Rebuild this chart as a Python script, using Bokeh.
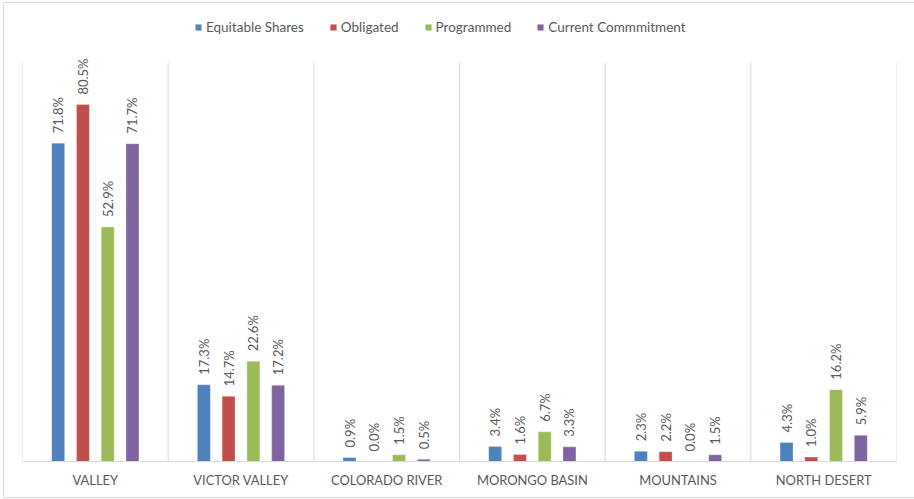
import numpy as np
from bokeh.plotting import figure
from bokeh.models import ColumnDataSource, FixedTicker, Legend, LegendItem, Range1d
from bokeh.core.properties import value
from bokeh.embed import file_html
from bokeh.resources import INLINE

categories = ["VALLEY", "VICTOR VALLEY", "COLORADO RIVER", "MORONGO BASIN", "MOUNTAINS", "NORTH DESERT"]
series_names = ["Equitable Shares", "Obligated", "Programmed", "Current Commmitment"]
equitable_shares = [71.8, 17.3, 0.9, 3.4, 2.3, 4.3]
obligated = [80.5, 14.7, 0.0, 1.6, 2.2, 1.0]
programmed = [52.9, 22.6, 1.5, 6.7, 0.0, 16.2]
current_commitment = [71.7, 17.2, 0.5, 3.3, 1.5, 5.9]
series_values = [equitable_shares, obligated, programmed, current_commitment]
colors = ["#4F81BD", "#C0504D", "#9BBB59", "#8064A2"]
offsets = [-0.255, -0.085, 0.085, 0.255]
value_axis_max = 90.0

FONT = "Lato"
GRAY = "#595959"
LINE = "#d9d9d9"

n = len(categories)
frame_h = 459          # px of the plot frame
gap_px = 60            # px above the value area for the legend
y_top = value_axis_max * frame_h / (frame_h - gap_px)

p = figure(width=911, height=496, output_backend="svg", toolbar_location=None,
           x_range=Range1d(0, n), y_range=Range1d(0, y_top),
           min_border_left=19, min_border_right=18, min_border_top=0, min_border_bottom=37,
           margin=(2, 0, 0, 3))
p.border_fill_color = None
p.background_fill_color = None
p.styles = {"box-shadow": "inset 1px 1px 0 0 #d9d9d9, inset 0 -1px 0 0 #d9d9d9"}
p.stylesheets = ["text[font-size='12.9px'] { letter-spacing: 2px; }"]
p.outline_line_color = None
p.xgrid.visible = False
p.ygrid.visible = False
p.yaxis.visible = False

sep_x = list(range(n + 1))
p.segment(x0=sep_x, y0=[0] * (n + 1), x1=sep_x, y1=[value_axis_max] * (n + 1),
          line_color=LINE, line_width=1)

items = []
centers = np.arange(n) + 0.5
for name, vals, col, off in zip(series_names, series_values, colors, offsets):
    src = ColumnDataSource(dict(x=centers + off, top=vals,
                                label=[f"{v:.1f}%" for v in vals]))
    r = p.vbar(x="x", top="top", width=0.089, source=src, fill_color=col,
               line_color="white", line_alpha=0.6, line_width=0.5)
    p.text(x="x", y="top", text="label", source=src, angle=np.pi / 2,
           text_align="left", text_baseline="middle", y_offset=-10,
           text_font=value(FONT), text_font_size="13px", text_color=GRAY)
    items.append(LegendItem(label=name, renderers=[r]))

legend = Legend(items=items, orientation="horizontal", location=(172, 426),
                glyph_width=8, glyph_height=8, label_standoff=4, spacing=25,
                padding=0, margin=0, label_height=14,
                label_text_font=FONT, label_text_font_size="13.5px", label_text_color=GRAY,
                border_line_color=None, background_fill_alpha=0)
p.add_layout(legend, "center")

ax = p.xaxis[0]
ax.ticker = FixedTicker(ticks=list(centers))
ax.major_label_overrides = {float(c): cat for c, cat in zip(centers, categories)}
ax.major_tick_line_color = None
ax.minor_tick_line_color = None
ax.major_tick_out = 0
ax.major_tick_in = 0
ax.axis_line_color = LINE
ax.major_label_standoff = 10
ax.major_label_text_font = FONT
ax.major_label_text_font_size = "12.9px"
ax.major_label_text_color = GRAY

open("out.html", "w").write(file_html(p, INLINE))
